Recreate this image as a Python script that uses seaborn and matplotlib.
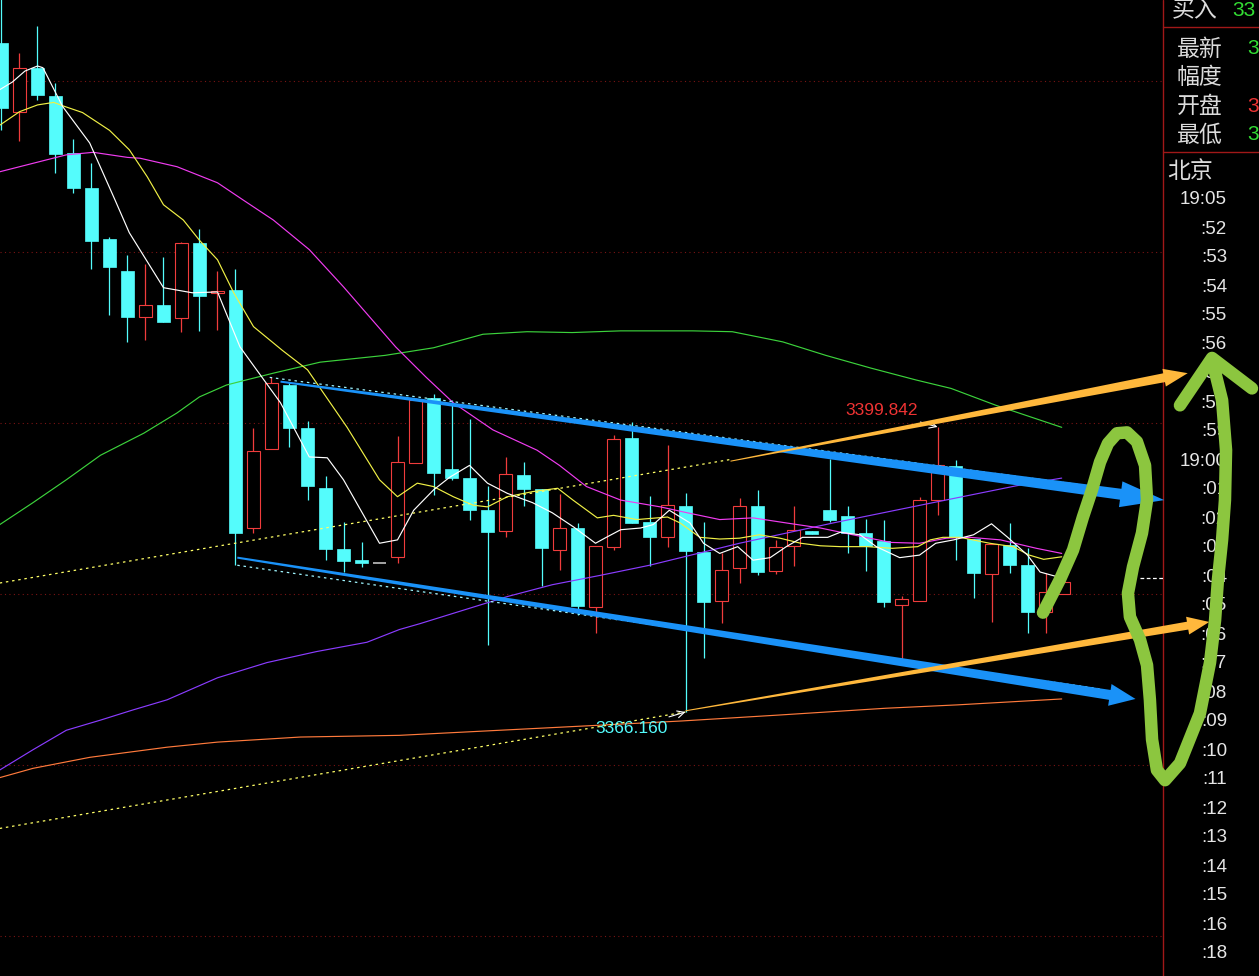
import numpy as np
import pandas as pd
import seaborn as sns
import matplotlib
matplotlib.use('Agg')
import matplotlib.pyplot as plt

# candles (price units), left to right
opens = [3445.2, 3437.1, 3442.3, 3439.0, 3432.2, 3428.1, 3422.1, 3418.3, 3412.8, 3414.3,
         3412.7, 3421.6, 3415.7, 3416.0, 3387.9, 3397.2, 3404.8, 3399.7, 3392.6, 3385.4,
         3384.1, 3383.8, 3384.5, 3395.6, 3403.3, 3394.9, 3393.8, 3390.0, 3387.5, 3394.2,
         3392.5, 3385.3, 3387.9, 3378.6, 3385.7, 3398.5, 3388.6, 3386.8, 3390.5, 3385.1,
         3379.3, 3383.2, 3390.5, 3382.8, 3385.8, 3387.5, 3390.0, 3389.3, 3387.3, 3386.4,
         3378.8, 3379.3, 3391.2, 3395.2, 3386.6, 3382.5, 3385.9, 3383.5, 3378.0, 3380.1]
closes = [3437.5, 3442.3, 3439.1, 3432.1, 3428.1, 3421.8, 3418.7, 3412.8, 3414.3, 3412.2,
          3421.6, 3415.3, 3415.9, 3387.3, 3397.0, 3405.0, 3399.7, 3392.9, 3385.4, 3384.0,
          3383.8, 3383.8, 3395.7, 3403.0, 3394.4, 3393.8, 3390.0, 3387.4, 3394.3, 3392.5,
          3385.5, 3387.9, 3378.7, 3385.8, 3398.4, 3388.5, 3386.8, 3390.6, 3385.2, 3379.2,
          3382.9, 3390.5, 3382.7, 3385.7, 3387.7, 3387.2, 3388.9, 3387.3, 3385.8, 3379.2,
          3379.5, 3391.2, 3395.3, 3386.8, 3382.6, 3386.0, 3383.5, 3378.0, 3380.3, 3381.5]
highs = [3450.8, 3444.0, 3447.2, 3440.5, 3433.9, 3431.0, 3422.3, 3420.2, 3419.1, 3419.9,
         3421.7, 3423.2, 3418.3, 3418.5, 3399.7, 3405.7, 3405.2, 3400.5, 3394.0, 3388.6,
         3386.2, 3383.8, 3398.8, 3403.3, 3403.7, 3403.0, 3400.8, 3392.9, 3396.3, 3395.7,
         3392.5, 3391.9, 3388.5, 3385.8, 3398.9, 3400.4, 3391.7, 3397.7, 3392.0, 3388.6,
         3384.9, 3391.4, 3392.4, 3386.5, 3390.5, 3387.5, 3396.1, 3390.5, 3389.0, 3388.9,
         3379.9, 3391.6, 3399.842, 3395.9, 3386.6, 3386.0, 3388.5, 3385.5, 3382.6, 3382.0]
lows = [3434.9, 3433.6, 3438.5, 3429.9, 3427.5, 3418.5, 3413.1, 3409.9, 3410.1, 3412.2,
        3411.1, 3411.2, 3411.3, 3383.5, 3387.3, 3397.2, 3397.5, 3391.2, 3384.1, 3382.7,
        3383.3, 3383.8, 3383.8, 3395.6, 3391.8, 3393.6, 3388.9, 3374.1, 3386.8, 3390.5,
        3381.1, 3382.9, 3377.6, 3375.5, 3385.3, 3388.5, 3383.4, 3385.7, 3366.160, 3372.5,
        3376.7, 3381.4, 3382.3, 3382.5, 3383.4, 3387.2, 3388.6, 3384.9, 3382.8, 3378.6,
        3372.3, 3379.3, 3389.4, 3384.1, 3379.6, 3376.8, 3382.6, 3375.5, 3375.5, 3380.1]

# marked high / low candles
high_mark = 52
low_mark = 38

# moving average lines (candle index, price)
ma5_x = [-0.1, 0.6, 1.3, 2.0, 2.3, 3.4, 4.9, 6.3, 7.1, 9.0, 10.6, 12.0, 13.25, 15.5, 17.1, 18.1,
         19.0, 21.0, 22.0, 22.9, 24.0, 24.9, 26.0, 27.0, 28.1, 29.5, 30.6, 31.8, 33.0, 33.6, 34.4,
         35.5, 36.2, 37.1, 38.25, 39.0, 39.9, 40.9, 41.75, 42.7, 43.6, 44.5, 45.9, 46.6, 47.7,
         48.6, 49.9, 51.0, 51.9, 52.9, 54.0, 55.0, 55.9, 57.0, 57.7, 58.9]
ma5_y = [3439.7, 3440.6, 3441.9, 3442.5, 3442.3, 3437.7, 3433.4, 3426.7, 3422.8, 3416.3, 3415.7,
         3415.8, 3409.3, 3402.7, 3396.3, 3396.2, 3393.6, 3386.1, 3386.5, 3390.0, 3392.4, 3393.9,
         3395.3, 3393.2, 3392.0, 3390.9, 3389.7, 3388.0, 3386.1, 3386.8, 3387.7, 3387.9, 3388.3,
         3390.0, 3388.5, 3386.1, 3384.9, 3385.7, 3384.1, 3384.4, 3385.7, 3386.8, 3386.8, 3387.4,
         3387.1, 3385.7, 3384.4, 3384.7, 3386.1, 3386.5, 3387.1, 3388.4, 3386.8, 3384.7, 3382.7,
         3382.0]
ma10_x = [-0.1, 1.0, 2.0, 2.9, 3.4, 4.5, 6.0, 7.1, 8.1, 9.0, 10.1, 11.0, 12.0, 12.9, 14.0, 15.6,
          17.0, 19.2, 21.0, 22.0, 23.1, 24.0, 25.1, 26.2, 27.0, 28.1, 29.5, 30.9, 31.75, 33.1,
          34.0, 35.3, 37.0, 37.7, 38.8, 39.9, 41.0, 42.1, 43.25, 44.4, 45.5, 46.6, 48.1, 49.5,
          50.9, 51.6, 52.3, 53.25, 54.9, 56.2, 57.1, 57.9, 58.9]
ma10_y = [3435.5, 3437.1, 3437.9, 3438.2, 3437.8, 3437.0, 3434.9, 3432.6, 3429.4, 3426.1, 3424.3,
          3421.9, 3419.6, 3415.7, 3411.7, 3408.9, 3406.6, 3399.8, 3393.6, 3391.6, 3393.2, 3392.8,
          3391.6, 3390.6, 3390.4, 3391.6, 3392.2, 3392.6, 3391.2, 3389.1, 3389.4, 3388.9, 3389.2,
          3388.5, 3386.8, 3386.6, 3386.7, 3387.1, 3386.7, 3386.1, 3385.8, 3385.7, 3385.7, 3385.5,
          3385.7, 3386.5, 3386.8, 3386.8, 3386.1, 3385.7, 3384.7, 3384.2, 3384.5]
ma20_x = [-0.1, 1.75, 3.6, 5.1, 7.0, 7.7, 9.75, 12.0, 13.4, 15.1, 17.1, 19.0, 21.9, 23.6, 25.1,
          27.3, 29.75, 31.0, 32.5, 34.4, 36.6, 38.1, 39.9, 41.75, 43.6, 45.5, 47.3, 49.4, 51.0,
          52.5, 53.8, 55.5, 57.5, 58.9]
ma20_y = [3430.0, 3431.0, 3432.0, 3432.3, 3431.7, 3431.6, 3430.6, 3428.7, 3426.7, 3424.3, 3420.8,
          3416.4, 3409.3, 3405.7, 3402.7, 3399.5, 3397.1, 3395.3, 3392.8, 3391.2, 3390.4, 3389.7,
          3388.9, 3389.1, 3388.5, 3387.9, 3387.1, 3386.2, 3386.1, 3386.7, 3386.8, 3386.5, 3385.5,
          3384.9]
ma60_x = [-0.1, 1.75, 3.6, 5.5, 7.9, 9.75, 11.0, 12.5, 13.6, 15.1, 17.7, 21.3, 24.0, 26.75, 29.2,
          31.7, 34.4, 38.4, 40.6, 43.4, 45.8, 48.3, 50.8, 52.75, 55.25, 58.9]
ma60_y = [3388.3, 3390.9, 3393.6, 3396.5, 3399.1, 3401.5, 3403.4, 3404.8, 3405.4, 3406.2, 3407.5,
          3408.3, 3409.2, 3410.8, 3411.1, 3411.0, 3411.2, 3411.2, 3411.1, 3409.9, 3408.3, 3406.8,
          3405.4, 3404.4, 3402.4, 3399.8]
ma120_x = [-0.1, 1.75, 3.6, 5.5, 7.3, 9.2, 12.0, 14.75, 17.5, 20.3, 22.1, 23.25, 28.1, 30.6,
           33.25, 36.0, 41.0, 46.2, 51.75, 56.4, 58.9]
ma120_y = [3359.3, 3361.7, 3364.0, 3365.2, 3366.4, 3367.6, 3370.2, 3372.0, 3373.3, 3374.4, 3375.9,
           3376.6, 3379.8, 3381.2, 3382.3, 3383.5, 3386.1, 3388.5, 3390.9, 3392.9, 3393.8]
ma250_x = [-0.1, 1.75, 4.9, 9.2, 12.0, 16.6, 22.1, 33.25, 37.8, 43.2, 49.1, 53.1, 58.9]
ma250_y = [3358.4, 3359.5, 3360.8, 3362.0, 3362.6, 3363.2, 3363.4, 3364.6, 3365.1, 3365.8, 3366.6,
           3367.0, 3367.7]

# drawn trend lines / arrows: ((x0, y0), (x1, y1))
trend_up = [(-0.1, 3381.4), (40.5, 3396.0)]
trend_low = [(-0.1, 3352.4), (38.0, 3366.16)]
chan_up = [(14.9, 3405.7), (60.0, 3393.0)]
chan_low = [(13.1, 3383.5), (61.0, 3368.9)]
blue_up = [(15.5, 3405.2), (64.6, 3391.2)]
blue_low = [(13.1, 3384.4), (63.0, 3367.7)]
orange_up = [(40.5, 3395.8), (65.9, 3406.2)]
orange_low = [(38.0, 3366.3), (67.1, 3376.8)]
last_price = 3382.0

# hand-drawn green stroke
scribble_x = [57.86, 58.8, 59.53, 60.08, 60.58, 61.03, 61.47, 61.97, 62.53, 63.08, 63.53, 63.64,
              63.36, 62.86, 62.58, 62.69, 63.25, 63.64, 63.8, 63.92, 64.19, 64.64, 65.47, 66.58,
              67.14, 67.42, 67.58, 67.81, 67.97, 68.03, 67.81, 67.25]
scribble_y = [3377.9, 3381.8, 3385.3, 3389.2, 3392.4, 3395.7, 3397.9, 3399.1, 3399.2, 3398.1,
              3395.3, 3391.2, 3387.3, 3383.3, 3380.2, 3377.4, 3374.7, 3371.7, 3367.6, 3362.9,
              3359.3, 3358.1, 3360.1, 3366.0, 3372.0, 3377.0, 3381.8, 3386.5, 3391.2, 3397.1,
              3403.0, 3407.8]
scribble_head_x = [65.47, 67.25, 69.47]
scribble_head_y = [3402.4, 3408.0, 3404.4]

grid_prices = [3440.7, 3420.5, 3400.3, 3380.1, 3359.9, 3339.7]

info_labels = ['买入', '最新', '幅度', '开盘', '最低']
info_values = ['33', '3', '', '3', '3']
info_colors = ['#33dd33', '#33dd33', '#33dd33', '#ee3333', '#33dd33']
time_labels = ['19:05', ':52', ':53', ':54', ':55', ':56', ':57', ':58', ':59', '19:00',
               ':01', ':02', ':03', ':04', ':05', ':06', ':07', ':08', ':09', ':10',
               ':11', ':12', ':13', ':14', ':15', ':16', ':18']

CYAN = '#54fcfc'
RED = '#f03c3c'
W, H = 1259, 976
PANEL = 1163 / W

sns.set_theme(style='dark', rc={'axes.facecolor': 'black', 'figure.facecolor': 'black'})
plt.rcParams['font.family'] = ['Liberation Sans', 'Noto Sans CJK SC']

fig = plt.figure(figsize=(W / 100, H / 100), dpi=100)
ax = fig.add_axes([0, 0, 1, 1])
ax.set_xlim(-0.0833, 69.861)
ax.set_ylim(3334.96, 3450.30)
ax.axis('off')

df = pd.DataFrame({'open': opens, 'close': closes, 'high': highs, 'low': lows})
df['i'] = np.arange(len(df))
up = df[df.close > df.open]
dn = df[df.close < df.open]
flat = df[df.close == df.open]

# grid
for g in grid_prices:
    ax.axhline(g, xmax=PANEL, color='#7a1414', lw=0.8, ls=(0, (1, 3)), zorder=1)

# candles
ax.vlines(up.i, up.low, up.high, color=RED, lw=0.9, zorder=2)
ax.vlines(dn.i, dn.low, dn.high, color=CYAN, lw=0.9, zorder=2)
ax.bar(up.i, up.close - up.open, bottom=up.open, width=0.68, facecolor='black',
       edgecolor=RED, lw=0.8, zorder=3)
ax.bar(dn.i, dn.open - dn.close, bottom=dn.close, width=0.72, color=CYAN,
       edgecolor=CYAN, lw=0.5, zorder=3)
ax.hlines(flat.open, flat.i - 0.36, flat.i + 0.36, color='#c0c0c0', lw=1.2, zorder=3)

# moving averages
for xs, ys, c in [(ma250_x, ma250_y, '#ff7a3c'), (ma120_x, ma120_y, '#8a3cff'),
                  (ma60_x, ma60_y, '#3cd23c'), (ma20_x, ma20_y, '#f03cf0'),
                  (ma10_x, ma10_y, '#f0f046'), (ma5_x, ma5_y, '#ffffff')]:
    sns.lineplot(x=xs, y=ys, ax=ax, color=c, lw=0.85, sort=False, estimator=None,
                 legend=False, zorder=4)

# dotted trend lines
for seg, c in [(trend_up, '#ffff66'), (trend_low, '#ffff66'),
               (chan_up, '#9ff5ff'), (chan_low, '#9ff5ff')]:
    ax.plot([seg[0][0], seg[1][0]], [seg[0][1], seg[1][1]], color=c, lw=0.9,
            ls=(0, (2, 3)), zorder=4)
ax.plot([63.25, 64.5], [last_price, last_price], color='white', lw=0.9, ls=(0, (3, 2)), zorder=4)


def taper_arrow(seg, w0, w1, hw, hl, color, z):
    t = ax.transData
    (a, b), (c, d) = t.transform(seg)
    L = np.hypot(c - a, d - b)
    ux, uy = (c - a) / L, (d - b) / L
    nx, ny = -uy, ux
    bx, by = c - ux * hl, d - uy * hl
    pts = [(a + nx * w0 / 2, b + ny * w0 / 2), (bx + nx * w1 / 2, by + ny * w1 / 2),
           (bx + nx * hw / 2, by + ny * hw / 2), (c, d),
           (bx - nx * hw / 2, by - ny * hw / 2), (bx - nx * w1 / 2, by - ny * w1 / 2),
           (a - nx * w0 / 2, b - ny * w0 / 2)]
    poly = t.inverted().transform(pts)
    ax.fill(poly[:, 0], poly[:, 1], color=color, lw=0, zorder=z, clip_on=False)


taper_arrow(blue_up, 2, 11, 26, 44, '#1a92f8', 5)
taper_arrow(blue_low, 2, 10, 22, 26, '#1a92f8', 5)
taper_arrow(orange_up, 1, 9, 18, 24, '#ffb83c', 6)
taper_arrow(orange_low, 1, 8, 18, 22, '#ffb83c', 6)

# green scribble
ax.plot(scribble_x, scribble_y, color='#8cc63f', lw=9, solid_capstyle='round',
        solid_joinstyle='round', zorder=7, clip_on=False)
ax.plot(scribble_head_x, scribble_head_y, color='#8cc63f', lw=9, solid_capstyle='round',
        solid_joinstyle='round', zorder=7, clip_on=False)

# high / low marks
ax.annotate(f'{highs[high_mark]:.3f}', xy=(high_mark, highs[high_mark]),
            xytext=(high_mark - 1.1, highs[high_mark] + 1.9),
            ha='right', va='center', color='#ee3333', fontsize=12.5,
            arrowprops=dict(arrowstyle='->', color='white', lw=0.8, shrinkA=1, shrinkB=0),
            zorder=5)
ax.annotate(f'{lows[low_mark]:.3f}', xy=(low_mark, lows[low_mark]),
            xytext=(low_mark - 1.0, lows[low_mark] - 1.9),
            ha='right', va='center', color=CYAN, fontsize=12.5,
            arrowprops=dict(arrowstyle='->', color='white', lw=0.8, shrinkA=1, shrinkB=0),
            zorder=5)

# right info panel
ax.axvline(64.53, color='#a01818', lw=1.0, zorder=2)
for yy in [27, 152]:
    ax.plot([PANEL, 1], [1 - yy / H] * 2, transform=ax.transAxes, color='#a01818', lw=1.0)
info_y = [11, 49, 77, 106, 135]
info_x = [1172, 1177, 1177, 1177, 1177]
for lab, val, col, xx, yy in zip(info_labels, info_values, info_colors, info_x, info_y):
    ax.text(xx / W, 1 - yy / H, lab, transform=ax.transAxes, color='#dcdcdc',
            fontsize=16.5, ha='left', va='center', family=['Noto Sans CJK SC'])
    vx = 1232 if lab == '买入' else 1247
    ax.text(vx / W, 1 - yy / H, val, transform=ax.transAxes, color=col,
            fontsize=15, ha='left', va='center')
ax.text(1167 / W, 1 - 172 / H, '北京', transform=ax.transAxes, color='#dcdcdc',
        fontsize=16.5, ha='left', va='center', family=['Noto Sans CJK SC'])
for k, lab in enumerate(time_labels):
    ax.text(1227 / W, 1 - (200 + 29 * k) / H, lab, transform=ax.transAxes, color='#e6e6e6',
            fontsize=13.5, ha='right', va='center')

fig.savefig('out.png', dpi=100, facecolor='black')
